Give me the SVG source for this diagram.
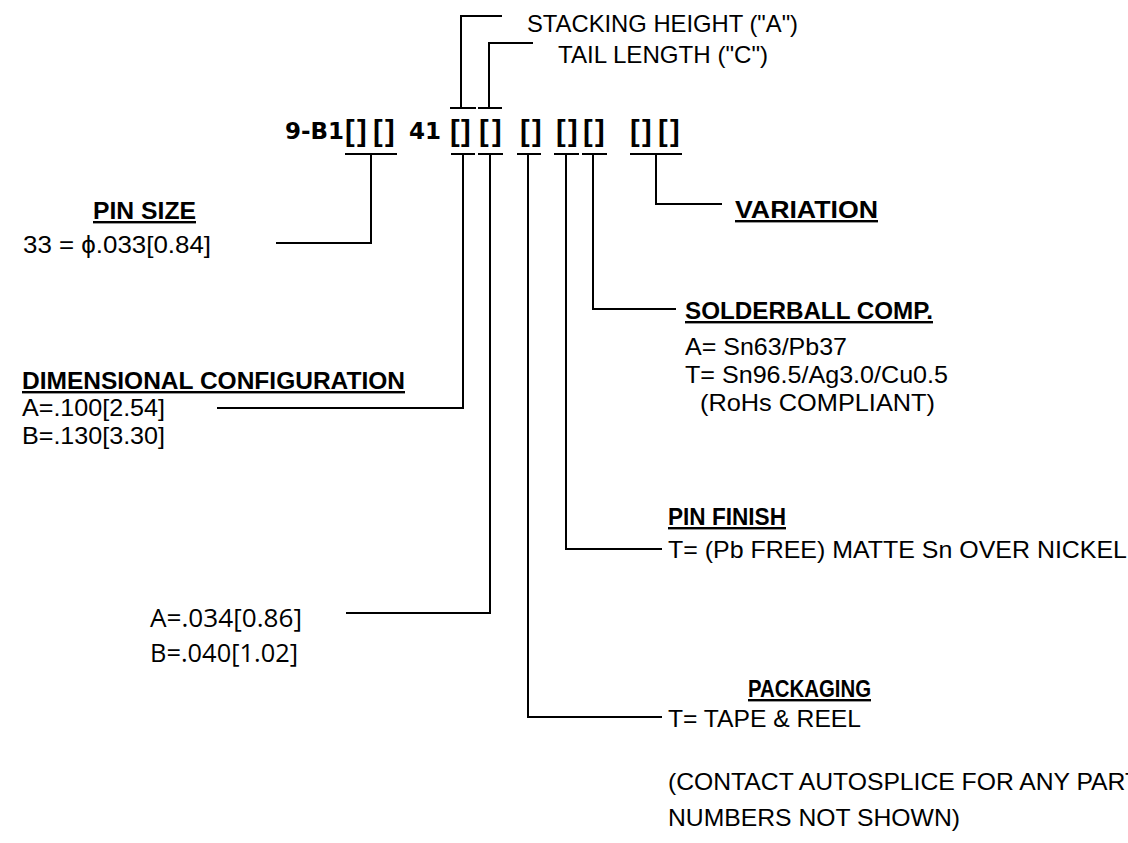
<svg xmlns="http://www.w3.org/2000/svg" width="1128" height="843" viewBox="0 0 1128 843">
<style>
  .ln { stroke: #000; stroke-width: 2; fill: none; }
  .t { font-family: "Liberation Sans", Arial, sans-serif; font-size: 24px; fill: #000; }
  .h { font-family: "Liberation Sans", Arial, sans-serif; font-size: 24px; font-weight: bold; fill: #000; text-decoration: underline; }
  .o { font-family: "Open Sans", "Liberation Sans", sans-serif; font-size: 25px; fill: #000; }
  .pn { font-family: "DejaVu Sans", "Liberation Sans", sans-serif; font-size: 23px; font-weight: bold; fill: #000; }
  .br { font-family: "Liberation Sans", Arial, sans-serif; font-size: 29px; font-weight: bold; }
</style>
<rect width="1128" height="843" fill="#fff"/>

<g id="part-number">
  <text class="pn" y="139"><tspan x="285">9-B1</tspan><tspan class="br" x="345 357 373 385" y="141">[][]</tspan><tspan x="409" y="139">41</tspan><tspan class="br" x="450 461 479 492" y="141">[][]</tspan><tspan class="br" x="520 532" y="141">[]</tspan><tspan class="br" x="556 568 583 595" y="141">[][]</tspan><tspan class="br" x="630 642 658 670" y="141">[][]</tspan></text>
</g>

<g id="connectors">
  <line class="ln" x1="345" y1="154" x2="397" y2="154"/>
  <line class="ln" x1="451" y1="154" x2="475" y2="154"/>
  <line class="ln" x1="478" y1="154" x2="503" y2="154"/>
  <line class="ln" x1="517" y1="154" x2="541" y2="154"/>
  <line class="ln" x1="554" y1="154" x2="579" y2="154"/>
  <line class="ln" x1="582" y1="154" x2="607" y2="154"/>
  <line class="ln" x1="630" y1="154" x2="682" y2="154"/>
  <line class="ln" x1="450" y1="108" x2="476" y2="108"/>
  <line class="ln" x1="478" y1="108" x2="502" y2="108"/>
  <polyline class="ln" points="461,108 461,16 502,16"/>
  <polyline class="ln" points="489,108 489,43 533,43"/>
  <polyline class="ln" points="371,154 371,243 276,243"/>
  <polyline class="ln" points="463,154 463,408 217,408"/>
  <polyline class="ln" points="490,154 490,613 346,613"/>
  <polyline class="ln" points="528,154 528,717 662,717"/>
  <polyline class="ln" points="566,154 566,549 662,549"/>
  <polyline class="ln" points="593,154 593,309 676,309"/>
  <polyline class="ln" points="656,154 656,204 722,204"/>
</g>

<g id="stacking-height">
  <text class="t" x="527" y="32" textLength="271" lengthAdjust="spacingAndGlyphs">STACKING HEIGHT ("A")</text>
</g>
<g id="tail-length">
  <text class="t" x="558" y="63" textLength="210" lengthAdjust="spacingAndGlyphs">TAIL LENGTH ("C")</text>
</g>

<g id="pin-size">
  <text class="h" x="93" y="219" textLength="103" lengthAdjust="spacingAndGlyphs">PIN SIZE</text>
  <text class="t" x="23" y="253" textLength="188" lengthAdjust="spacingAndGlyphs">33 = ϕ.033[0.84]</text>
</g>

<g id="variation">
  <text class="h" x="735" y="218" textLength="143" lengthAdjust="spacingAndGlyphs">VARIATION</text>
</g>

<g id="solderball">
  <text class="h" x="685" y="319" textLength="248" lengthAdjust="spacingAndGlyphs">SOLDERBALL COMP.</text>
  <text class="t" x="685" y="355" textLength="162" lengthAdjust="spacingAndGlyphs">A= Sn63/Pb37</text>
  <text class="t" x="685" y="383" textLength="263" lengthAdjust="spacingAndGlyphs">T= Sn96.5/Ag3.0/Cu0.5</text>
  <text class="t" x="700" y="411" textLength="235" lengthAdjust="spacingAndGlyphs">(RoHs COMPLIANT)</text>
</g>

<g id="dimensional">
  <text class="h" x="22" y="389" textLength="383" lengthAdjust="spacingAndGlyphs">DIMENSIONAL CONFIGURATION</text>
  <text class="t" x="22" y="416" textLength="143" lengthAdjust="spacingAndGlyphs">A=.100[2.54]</text>
  <text class="t" x="22" y="444" textLength="143" lengthAdjust="spacingAndGlyphs">B=.130[3.30]</text>
</g>

<g id="pin-finish">
  <text class="h" x="668" y="525" textLength="118" lengthAdjust="spacingAndGlyphs">PIN FINISH</text>
  <text class="t" x="668" y="558" textLength="459" lengthAdjust="spacingAndGlyphs">T= (Pb FREE) MATTE Sn OVER NICKEL</text>
</g>

<g id="tail-dim">
  <text class="o" x="150" y="627" textLength="152" lengthAdjust="spacingAndGlyphs">A=.034[0.86]</text>
  <text class="o" x="150" y="662" textLength="148" lengthAdjust="spacingAndGlyphs">B=.040[1.02]</text>
</g>

<g id="packaging">
  <text class="h" x="748" y="697" textLength="123" lengthAdjust="spacingAndGlyphs">PACKAGING</text>
  <text class="t" x="668" y="727" textLength="193" lengthAdjust="spacingAndGlyphs">T= TAPE &amp; REEL</text>
  <text class="t" x="668" y="790" textLength="472" lengthAdjust="spacingAndGlyphs">(CONTACT AUTOSPLICE FOR ANY PART</text>
  <text class="t" x="668" y="826" textLength="292" lengthAdjust="spacingAndGlyphs">NUMBERS NOT SHOWN)</text>
</g>
</svg>
